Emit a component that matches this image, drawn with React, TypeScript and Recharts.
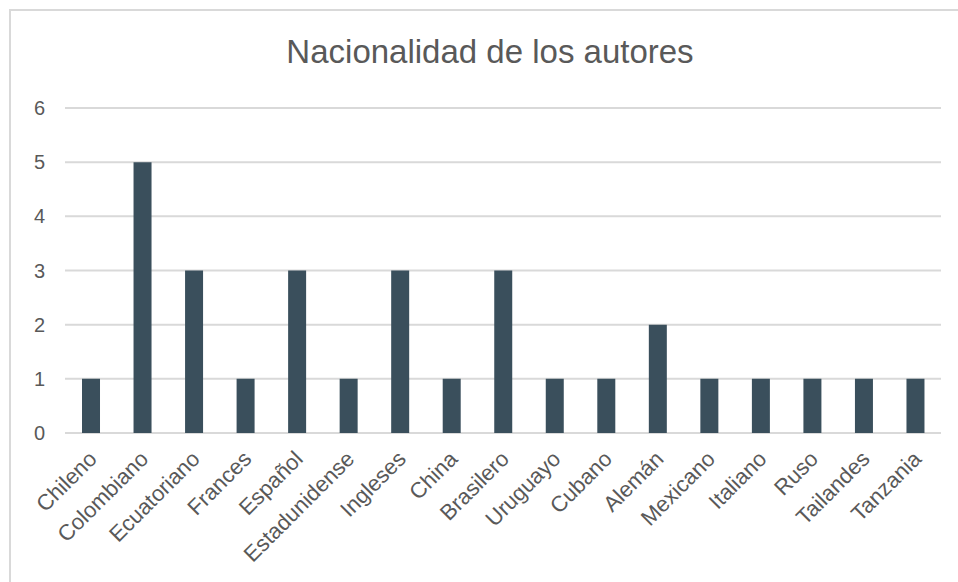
import { BarChart, Bar, XAxis, YAxis, CartesianGrid } from 'recharts';

const nacionalidades = [
  'Chileno', 'Colombiano', 'Ecuatoriano', 'Frances', 'Español', 'Estadunidense',
  'Ingleses', 'China', 'Brasilero', 'Uruguayo', 'Cubano', 'Alemán', 'Mexicano',
  'Italiano', 'Ruso', 'Tailandes', 'Tanzania',
];
const autores = [1, 5, 3, 1, 3, 1, 3, 1, 3, 1, 1, 2, 1, 1, 1, 1, 1];
const yTicks = [0, 1, 2, 3, 4, 5, 6];

const data = nacionalidades.map((n, i) => ({ n, v: autores[i] }));

const FONT = '"Liberation Sans", Arial, sans-serif';
const TEXT = '#595959';

function XTick(props: any) {
  const { x, y, payload } = props;
  return (
    <g transform={`translate(${x - 2},${y + 10})`}>
      <text
        transform="rotate(-45)"
        textAnchor="end"
        dy="0.6em"
        fill={TEXT}
        fontSize={22}
        fontFamily={FONT}
      >
        {payload.value}
      </text>
    </g>
  );
}

export default function App() {
  return (
    <div style={{ position: 'absolute', left: 0, top: 0, width: 958, height: 582, background: '#fff', overflow: 'hidden' }}>
      <div
        style={{
          position: 'absolute',
          left: 9,
          top: 9,
          width: 960,
          height: 600,
          border: '2px solid #d9d9d9',
          boxSizing: 'border-box',
        }}
      />
      <div
        style={{
          position: 'absolute',
          left: 0,
          top: 33,
          width: 980,
          textAlign: 'center',
          fontFamily: FONT,
          fontSize: 33,
          color: TEXT,
        }}
      >
        Nacionalidad de los autores
      </div>
      <div style={{ position: 'absolute', left: 0, top: 0 }}>
        <BarChart
          width={958}
          height={582}
          data={data}
          margin={{ top: 108, right: 17, left: 0, bottom: 0 }}
          barCategoryGap="33%"
        >
          <CartesianGrid vertical={false} stroke="#d9d9d9" strokeWidth={2} />
          <XAxis
            dataKey="n"
            interval={0}
            axisLine={false}
            tickLine={false}
            tick={<XTick />}
            height={149}
          />
          <YAxis
            width={65}
            domain={[0, 6]}
            ticks={yTicks}
            axisLine={false}
            tickLine={false}
            tickMargin={14}
            tick={{ fill: TEXT, fontSize: 20, fontFamily: FONT }}
          />
          <Bar dataKey="v" fill="#3a4f5c" isAnimationActive={false} />
        </BarChart>
      </div>
    </div>
  );
}
